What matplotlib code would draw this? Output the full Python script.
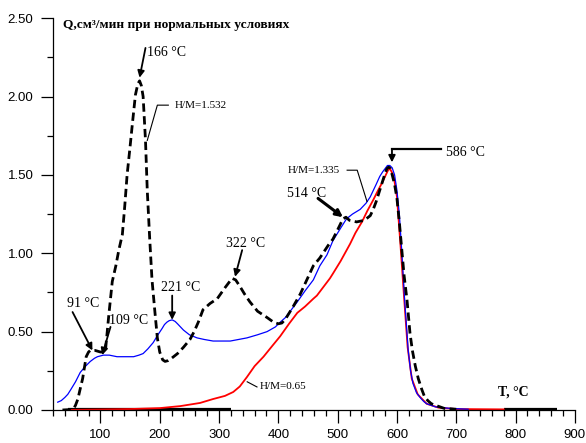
import matplotlib
matplotlib.use("Agg")
import matplotlib.pyplot as plt
from matplotlib.ticker import MultipleLocator

# H/M = 1.532 (dashed)
t_1532 = [36, 50, 55, 58, 62, 65, 70, 73, 76, 80, 83, 91, 100, 105, 109, 114, 120, 126,
          131, 137, 141, 145, 150, 154, 159, 163, 166, 169, 172, 176, 179, 183, 187, 192,
          196, 200, 205, 209, 214, 220, 230, 240, 251, 258, 265, 273, 285, 297, 310, 316,
          322, 328, 335, 343, 352, 365, 381, 392, 400, 406, 412, 425, 437, 448, 459, 470,
          484, 492, 500, 509, 514, 520, 532, 545, 555, 560, 565, 570, 575, 580, 583, 586,
          589, 592, 596, 600, 604, 608, 612, 617, 622, 626, 631, 636, 642, 646, 652, 658,
          665, 680, 700]
q_1532 = [0.0, 0.003, 0.01, 0.03, 0.07, 0.12, 0.20, 0.27, 0.34, 0.37, 0.38, 0.38, 0.37,
          0.37, 0.40, 0.60, 0.82, 0.92, 1.02, 1.12, 1.30, 1.50, 1.68, 1.83, 2.01, 2.08,
          2.10, 2.07, 2.00, 1.72, 1.40, 1.10, 0.83, 0.62, 0.46, 0.37, 0.32, 0.31, 0.315,
          0.33, 0.36, 0.40, 0.45, 0.50, 0.56, 0.64, 0.68, 0.71, 0.78, 0.81, 0.84, 0.83,
          0.79, 0.74, 0.69, 0.63, 0.59, 0.56, 0.55, 0.555, 0.58, 0.66, 0.74, 0.83, 0.92,
          0.97, 1.05, 1.09, 1.15, 1.22, 1.23, 1.21, 1.20, 1.21, 1.24, 1.28, 1.33, 1.39,
          1.45, 1.51, 1.54, 1.55, 1.54, 1.50, 1.44, 1.35, 1.20, 1.03, 0.86, 0.70, 0.49,
          0.38, 0.28, 0.20, 0.13, 0.09, 0.06, 0.04, 0.03, 0.01, 0.005]

# H/M = 1.335 (blue)
t_1335 = [28, 34, 40, 45, 50, 58, 66, 75, 83, 90, 95, 105, 115, 128, 145, 156, 165, 172,
          180, 189, 197, 204, 208, 212, 216, 221, 226, 230, 235, 240, 250, 263, 275, 290,
          305, 319, 333, 347, 365, 381, 395, 403, 412, 420, 432, 445, 459, 470, 482, 492,
          505, 515, 525, 538, 548, 555, 560, 565, 571, 576, 580, 584, 588, 592, 596, 600,
          604, 608, 613, 619, 623, 627, 633, 639, 645, 650, 665, 690, 720]
q_1335 = [0.05, 0.06, 0.08, 0.10, 0.13, 0.18, 0.24, 0.28, 0.31, 0.33, 0.34, 0.35, 0.35,
          0.34, 0.34, 0.34, 0.35, 0.36, 0.39, 0.43, 0.48, 0.52, 0.545, 0.56, 0.57, 0.575,
          0.565, 0.55, 0.53, 0.51, 0.48, 0.46, 0.45, 0.44, 0.44, 0.44, 0.45, 0.46, 0.48,
          0.50, 0.53, 0.56, 0.59, 0.63, 0.69, 0.76, 0.83, 0.92, 0.99, 1.08, 1.16, 1.22,
          1.25, 1.28, 1.32, 1.36, 1.40, 1.44, 1.49, 1.52, 1.54, 1.56, 1.56, 1.545, 1.50,
          1.40, 1.25, 1.02, 0.70, 0.38, 0.25, 0.17, 0.11, 0.08, 0.055, 0.04, 0.02, 0.01,
          0.005]

# H/M = 0.65 (red)
t_065 = [40, 100, 150, 200, 235, 268, 290, 310, 324, 335, 347, 360, 375, 390, 403, 418,
         432, 445, 459, 465, 475, 487, 492, 505, 521, 530, 541, 550, 560, 568, 575, 580,
         585, 588, 591, 595, 600, 606, 612, 618, 625, 635, 650, 670, 700, 780]
q_065 = [0.0, 0.003, 0.006, 0.012, 0.025, 0.045, 0.07, 0.09, 0.115, 0.15, 0.21, 0.28, 0.34,
         0.41, 0.47, 0.55, 0.62, 0.66, 0.71, 0.73, 0.78, 0.84, 0.87, 0.95, 1.06, 1.13,
         1.20, 1.27, 1.34, 1.40, 1.45, 1.49, 1.53, 1.54, 1.52, 1.48, 1.36, 1.05, 0.72,
         0.40, 0.20, 0.10, 0.04, 0.015, 0.006, 0.004]

# zero-level baseline segments
t_base1 = [45, 320]
t_base2 = [780, 870]
q_base = [0.004, 0.004]

serif = "Liberation Serif"
plt.rcParams["font.family"] = ["Liberation Sans", "DejaVu Sans"]

fig = plt.figure(figsize=(5.86, 4.43), dpi=100)
ax = fig.add_axes([0.0904, 0.0745, 0.8906, 0.8845])

ax.plot(t_base1, q_base, color="black", lw=1.6, solid_capstyle="butt")
ax.plot(t_base2, q_base, color="black", lw=1.6, solid_capstyle="butt")
ax.plot(t_065, q_065, color="#ff0000", lw=1.3)
ax.plot(t_1335, q_1335, color="#0000ff", lw=0.9)
ax.plot(t_1532, q_1532, color="black", lw=2.0, dashes=(3, 1.6))

ax.set_xlim(20, 900)
ax.set_ylim(0, 2.5)
for s in ("top", "right"):
    ax.spines[s].set_visible(False)
ax.spines["left"].set_linewidth(0.9)
ax.spines["bottom"].set_linewidth(0.9)

ax.xaxis.set_minor_locator(MultipleLocator(20))
ax.yaxis.set_minor_locator(MultipleLocator(0.25))
ax.set_xticks(range(100, 1000, 100))
ax.set_yticks([0, 0.5, 1.0, 1.5, 2.0, 2.5])
ax.set_yticklabels(["0.00", "0.50", "1.00", "1.50", "2.00", "2.50"])
ax.tick_params(which="major", length=9, width=0.9, labelsize=9.5, direction="out")
ax.tick_params(which="minor", length=4, width=0.9, direction="out")
ax.tick_params(axis="y", pad=5)
ax.tick_params(axis="x", pad=4.5)

ax.text(0.019, 0.982, "Q,см³/мин при нормальных условиях", transform=ax.transAxes,
        family=serif, fontsize=9.6, fontweight="bold", ha="left", va="center")
ax.text(770, 0.115, "T, °C", family=serif, fontsize=10, fontweight="bold",
        ha="left", va="center")

arrow = dict(arrowstyle="-|>", color="black", lw=1.3, mutation_scale=10,
             shrinkA=0, shrinkB=0)


def mark(label, head, tail, pos, ha="center", lw=1.3):
    props = dict(arrow, lw=lw)
    ax.annotate("", xy=head, xytext=tail, arrowprops=props)
    ax.text(pos[0], pos[1], label, family=serif, fontsize=10, ha=ha, va="center")


mark("166 °C", (166, 2.12), (176, 2.31), (179, 2.28), ha="left")
mark("91 °C", (86.5, 0.38), (53, 0.625), (71, 0.68))
mark("109 °C", (103, 0.35), (117, 0.53), (147, 0.574))
mark("221 °C", (221, 0.575), (221, 0.73), (236, 0.78))
mark("322 °C", (327, 0.85), (339, 1.02), (344, 1.065))
mark("514 °C", (509, 1.23), (467, 1.35), (415, 1.384), ha="left", lw=2.2)

# elbow arrow for the main peak
ax.plot([674, 591.6], [1.665, 1.665], color="black", lw=1.6)
ax.annotate("", xy=(591.6, 1.58), xytext=(591.6, 1.665), arrowprops=arrow)
ax.text(682.5, 1.64, "586 °C", family=serif, fontsize=10, ha="left", va="center")

# series labels with leader lines
ax.plot([214.5, 196, 179], [1.945, 1.945, 1.72], color="black", lw=0.8)
ax.text(226, 1.94, "H/M=1.532", family=serif, fontsize=8, ha="left", va="center")
ax.plot([516, 533, 549.5], [1.53, 1.53, 1.33], color="black", lw=0.8)
ax.text(415, 1.53, "H/M=1.335", family=serif, fontsize=8, ha="left", va="center")
ax.plot([364, 347.5], [0.147, 0.18], color="black", lw=0.8)
ax.text(369, 0.147, "H/M=0.65", family=serif, fontsize=8, ha="left", va="center")

fig.savefig("out.png", dpi=100)
